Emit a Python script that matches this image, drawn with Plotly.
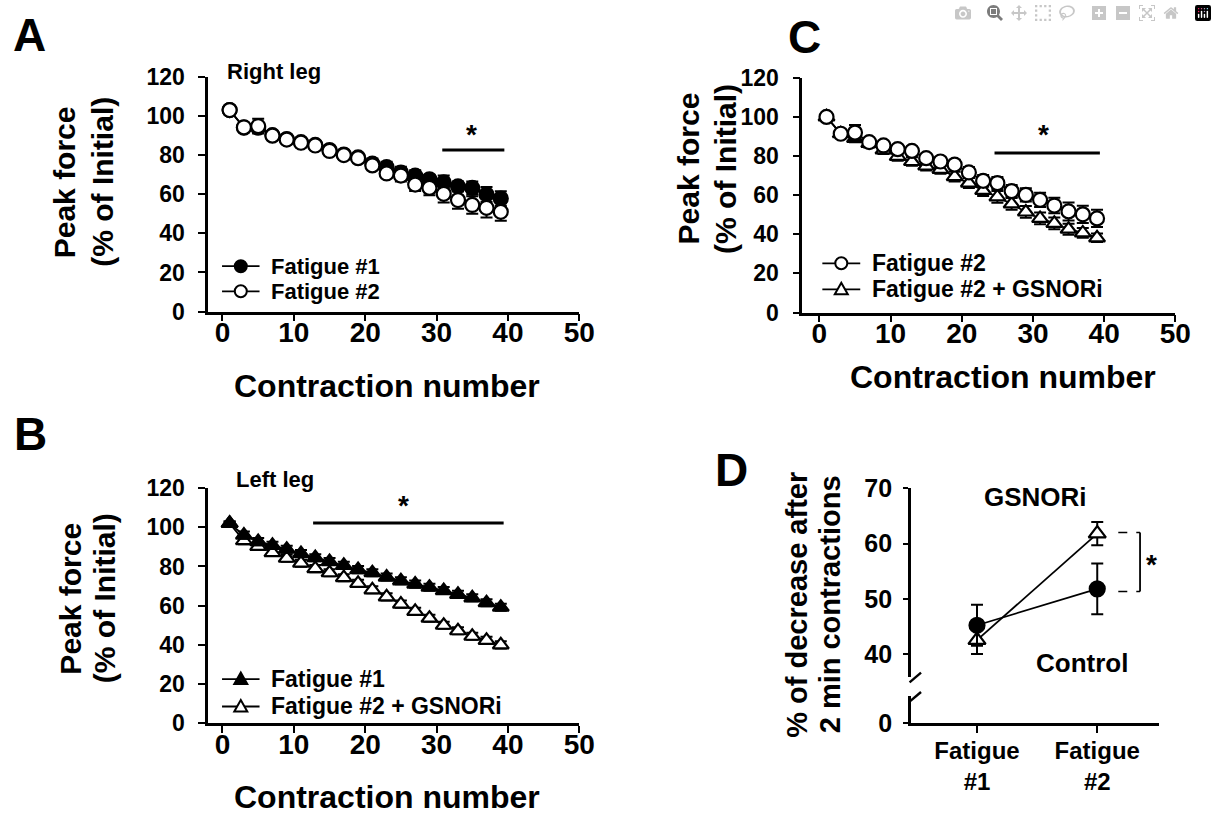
import plotly.graph_objects as go

W, H = 1217, 829
FONT = "Liberation Sans, Arial, Helvetica, sans-serif"

# ---------------- data ----------------
contraction = [1, 3, 5, 7, 9, 11, 13, 15, 17, 19, 21, 23, 25, 27, 29, 31, 33, 35, 37, 39]

# Panel A (Right leg)
a_fatigue1 = [103.0, 94.0, 94.0, 90.2, 88.2, 86.6, 85.2, 82.6, 80.3, 78.8, 75.6, 73.8, 71.1, 69.5, 67.6, 66.0, 64.0, 63.2, 59.9, 57.8]
a_fatigue1_err = [1.5, 1.8, 2.5, 1.5, 1.5, 1.5, 2.0, 2.0, 2.0, 2.2, 2.6, 2.8, 2.9, 2.8, 2.2, 3.5, 2.5, 3.3, 3.8, 3.7]
a_fatigue2 = [103.0, 94.2, 94.8, 89.9, 87.9, 86.3, 84.9, 82.1, 80.0, 78.4, 74.7, 70.6, 69.5, 64.9, 63.2, 60.2, 57.0, 54.5, 53.0, 51.0]
a_fatigue2_err = [1.0, 1.5, 3.8, 1.5, 1.5, 1.5, 1.8, 1.8, 1.5, 1.8, 2.0, 2.1, 3.0, 3.3, 3.8, 4.4, 4.5, 4.5, 4.9, 4.6]

# Panel B (Left leg)
b_fatigue1 = [102.0, 96.0, 92.7, 90.8, 88.8, 86.6, 84.5, 82.5, 80.6, 78.4, 76.8, 74.6, 72.7, 71.0, 69.4, 67.7, 65.8, 64.0, 61.5, 59.2]
b_fatigue1_err = [1.0, 1.8, 1.8, 1.8, 1.8, 1.8, 1.8, 1.8, 1.8, 1.8, 1.8, 1.8, 1.8, 1.8, 1.8, 1.8, 1.8, 1.8, 1.8, 1.8]
b_gsnori = [102.0, 93.2, 90.3, 87.1, 84.2, 81.7, 78.9, 76.8, 74.3, 71.4, 68.1, 64.5, 60.8, 57.1, 53.6, 50.0, 47.2, 44.4, 42.3, 40.0]
b_gsnori_err = [1.0, 1.8, 1.8, 1.8, 1.8, 1.8, 1.8, 1.8, 1.8, 1.8, 1.8, 1.8, 1.8, 1.8, 1.8, 1.8, 1.8, 1.8, 1.8, 1.8]

# Panel C
c_fatigue2 = [100.0, 91.4, 92.0, 87.1, 85.4, 83.5, 82.6, 78.9, 77.2, 75.6, 71.6, 67.3, 66.2, 62.1, 60.1, 57.6, 54.7, 51.7, 50.2, 48.1]
c_fatigue2_err = [1.0, 1.5, 3.8, 1.5, 1.8, 1.8, 2.2, 2.2, 2.2, 2.5, 2.8, 3.0, 3.1, 3.1, 3.4, 3.6, 4.0, 4.6, 4.4, 4.4]
c_gsnori = [100.0, 91.4, 89.0, 86.4, 83.1, 79.8, 77.2, 74.9, 73.2, 69.5, 66.2, 62.4, 59.1, 55.5, 51.4, 48.1, 45.6, 42.6, 40.7, 38.2]
c_gsnori_err = [1.0, 1.5, 2.0, 2.0, 2.0, 2.2, 2.2, 2.3, 2.3, 2.5, 2.6, 2.8, 3.0, 3.0, 3.0, 3.0, 3.0, 2.8, 2.5, 2.2]

# Panel D
d_groups = ["Fatigue<br>#1", "Fatigue<br>#2"]
d_control = [45.2, 51.8]
d_control_err = [3.7, 4.6]
d_gsnori = [42.5, 61.8]
d_gsnori_err = [2.5, 2.1]

x_ticks = [0, 10, 20, 30, 40, 50]
y_ticks = [0, 20, 40, 60, 80, 100, 120]
d_y_ticks = [40, 50, 60, 70]

# significance bars: (x0, x1, y)
a_sig = (30.8, 39.5, 82.6)
b_sig = (12.7, 39.4, 102.2)
c_sig = (24.6, 39.4, 81.5)


def px(x):
    return x / W


def py(y):
    return 1 - y / H


fig = go.Figure()


def series(x, y, err, xa, ya, symbol, fill, size=13, name=""):
    fig.add_trace(go.Scatter(
        x=x, y=y, xaxis=xa, yaxis=ya, mode="lines+markers", name=name,
        showlegend=False,
        line=dict(color="black", width=1.8),
        marker=dict(symbol=symbol, size=size, color=fill, line=dict(color="black", width=2.2)),
        error_y=dict(type="data", array=err, visible=True, color="black", thickness=2, width=6),
    ))


# Panel A
series(contraction, a_fatigue1, a_fatigue1_err, "x", "y", "circle", "black", 14, "Fatigue #1")
series(contraction, a_fatigue2, a_fatigue2_err, "x", "y", "circle", "white", 14, "Fatigue #2")
# Panel B
series(contraction, b_gsnori, b_gsnori_err, "x2", "y2", "triangle-up", "white", 14, "Fatigue #2 + GSNORi")
series(contraction, b_fatigue1, b_fatigue1_err, "x2", "y2", "triangle-up", "black", 14, "Fatigue #1")
# Panel C
series(contraction, c_gsnori, c_gsnori_err, "x3", "y3", "triangle-up", "white", 14, "Fatigue #2 + GSNORi")
series(contraction, c_fatigue2, c_fatigue2_err, "x3", "y3", "circle", "white", 14, "Fatigue #2")
# Panel D
series(d_groups, d_gsnori, d_gsnori_err, "x4", "y4", "triangle-up", "white", 15, "GSNORi")
series(d_groups, d_control, d_control_err, "x4", "y4", "circle", "black", 15, "Control")
# lower (broken) segment of panel D's y axis needs its own subplot
fig.add_trace(go.Scatter(x=[], y=[], xaxis="x4", yaxis="y5", showlegend=False, hoverinfo="skip"))

axis_common = dict(showline=True, linecolor="black", linewidth=2.6, ticks="outside",
                   tickcolor="black", tickwidth=2.4, ticklen=7, showgrid=False, zeroline=False,
                   color="black")
xt = dict(family=FONT, size=28, color="black", weight="bold")
yt = dict(family=FONT, size=23, color="black", weight="bold")


def xax(l, r, anchor, rng):
    return dict(axis_common, domain=[px(l), px(r)], anchor=anchor, range=rng,
                tickvals=x_ticks, tickfont=xt, ticklabelstandoff=-13)


def yax(t, b, anchor):
    return dict(axis_common, domain=[py(b), py(t)], anchor=anchor, range=[0, 120],
                tickvals=y_ticks, tickfont=yt, ticklabelstandoff=9)


dfont = dict(family=FONT, size=25, color="black", weight="bold")
fig.update_layout(
    width=W, height=H, margin=dict(l=0, r=0, t=0, b=0),
    paper_bgcolor="white", plot_bgcolor="white", showlegend=False,
    font=dict(family=FONT, color="black", weight="bold"),
    xaxis=xax(211, 587, "y", [-2.0, 50]),
    yaxis=yax(65, 308, "x"),
    xaxis2=xax(211, 587, "y2", [-2.0, 50]),
    yaxis2=yax(490.7, 734, "x2"),
    xaxis3=xax(813, 1191, "y3", [-2.4, 50]),
    yaxis3=yax(66, 309, "x3"),
    xaxis4=dict(axis_common, domain=[px(923), px(1174)], anchor="y5", range=[-0.55, 1.51],
                type="category", categoryarray=d_groups,
                tickfont=dict(family=FONT, size=24, color="black", weight="bold"), ticklabelstandoff=-3),
    yaxis4=dict(axis_common, domain=[py(686), py(491)], anchor="x4", range=[35.85, 70],
                tickvals=d_y_ticks, ticklen=5, tickfont=dfont, ticklabelstandoff=6),
    yaxis5=dict(axis_common, domain=[py(734), py(706)], anchor="x4", range=[0, 4.9],
                tickvals=[0], ticklen=5, tickfont=dfont, ticklabelstandoff=6),
)

shapes = []
ann = []


def text(x, y, s, size, angle=0, xanchor="center", ref=("paper", "paper")):
    ann.append(dict(x=x, y=y, xref=ref[0], yref=ref[1], text=s, showarrow=False,
                    textangle=angle, xanchor=xanchor, yanchor="middle",
                    font=dict(family=FONT, size=size, color="black", weight="bold")))


# significance bars
for (x0, x1, yv), xr, yr in [(a_sig, "x", "y"), (b_sig, "x2", "y2"), (c_sig, "x3", "y3")]:
    shapes.append(dict(type="line", xref=xr, yref=yr, x0=x0, x1=x1, y0=yv, y1=yv,
                       line=dict(color="black", width=3)))
text(34.9, 90.5, "*", 28, ref=("x", "y"))
text(25.4, 111.0, "*", 28, ref=("x2", "y2"))
text(31.5, 91.0, "*", 28, ref=("x3", "y3"))

# Panel D bracket
for yv in [62.0, 51.3]:
    shapes.append(dict(type="line", xref="x4", yref="y4", x0=1.175, x1=1.356, y0=yv, y1=yv,
                       line=dict(color="black", width=1.5, dash="dash")))
shapes.append(dict(type="line", xref="x4", yref="y4", x0=1.356, x1=1.356, y0=51.3, y1=62.0,
                   line=dict(color="black", width=1.8)))
text(1.452, 56.2, "*", 28, ref=("x4", "y4"))
text(0.49, 68.4, "GSNORi", 26, ref=("x4", "y4"))
text(0.87, 38.3, "Control", 26, ref=("x4", "y4"))

# axis break marks
for (xa, ya, xb, yb) in [(921.7, 691.7, 933.3, 681.7), (921.7, 711.7, 933.3, 701.7)]:
    shapes.append(dict(type="line", xref="paper", yref="paper", x0=px(xa), y0=py(ya),
                       x1=px(xb), y1=py(yb), line=dict(color="black", width=2.4)))


# legends (drawn as keys + text)
def legend_row(x0, x1, y, label, kind, fill, size=23):
    shapes.append(dict(type="line", xref="paper", yref="paper", x0=px(x0), x1=px(x1),
                       y0=py(y), y1=py(y), line=dict(color="black", width=1.8)))
    cx = (x0 + x1) / 2
    if kind == "circle":
        shapes.append(dict(type="circle", xref="paper", yref="paper", xsizemode="pixel",
                           ysizemode="pixel", xanchor=px(cx), yanchor=py(y),
                           x0=-6, x1=6, y0=-6, y1=6, fillcolor=fill,
                           line=dict(color="black", width=2)))
    else:
        shapes.append(dict(type="path", xref="paper", yref="paper", xsizemode="pixel",
                           ysizemode="pixel", xanchor=px(cx), yanchor=py(y),
                           path="M -6.5,-5 L 6.5,-5 L 0,6.5 Z", fillcolor=fill,
                           line=dict(color="black", width=2)))
    text(px(x1 + 10), py(y), label, size, xanchor="left")


legend_row(225, 263, 261, "Fatigue #1", "circle", "black", 22)
legend_row(225, 263, 287, "Fatigue #2", "circle", "white", 22)
legend_row(225, 263, 688.3, "Fatigue #1", "tri", "black")
legend_row(225, 263, 716.7, "Fatigue #2 + GSNORi", "tri", "white")
legend_row(833.3, 871.7, 258, "Fatigue #2", "circle", "white")
legend_row(833.3, 871.7, 285, "Fatigue #2 + GSNORi", "tri", "white")

# panel titles
text(px(228), py(60), "Right leg", 22, xanchor="left")
text(px(236.7), py(481.7), "Left leg", 22, xanchor="left")

# axis titles
text(px(392), py(385), "Contraction number", 32)
text(px(392), py(810), "Contraction number", 32)
text(px(1016.7), py(376), "Contraction number", 32)

text(px(65), py(174), "Peak force", 30, angle=-90)
text(px(103), py(174), "(% of Initial)", 30, angle=-90)
text(px(71), py(605), "Peak force", 30, angle=-90)
text(px(106), py(605), "(% of Initial)", 30, angle=-90)
text(px(698), py(160), "Peak force", 30, angle=-90)
text(px(735), py(160), "(% of Initial)", 30, angle=-90)
text(px(808), py(611), "% of decrease after", 29, angle=-90)
text(px(841), py(611), "2 min contractions", 29, angle=-90)

# panel letters
text(px(30), py(22), "A", 46)
text(px(31), py(435), "B", 46)
text(px(815), py(24), "C", 46)
text(px(741), py(472), "D", 46)

fig.update_layout(shapes=shapes, annotations=ann)

fig.write_html("out.html", post_script="document.body.style.margin='0';")
